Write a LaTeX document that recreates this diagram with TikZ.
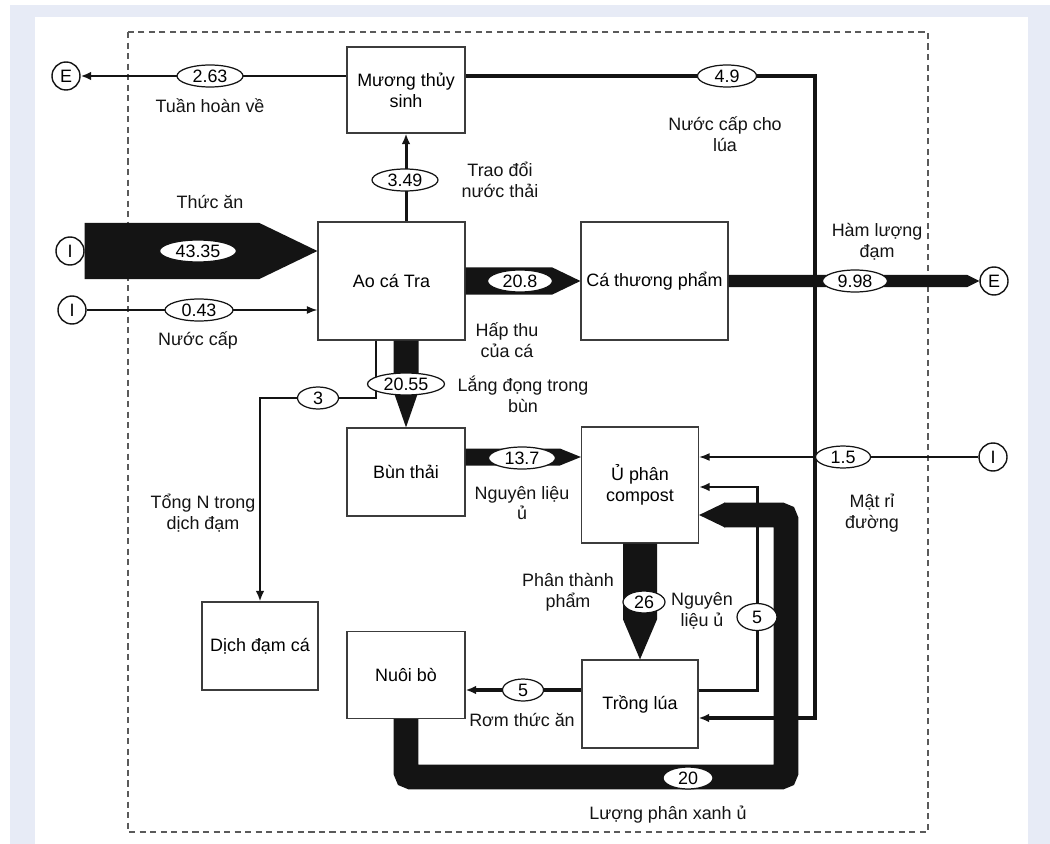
\documentclass[tikz,border=0pt]{standalone}
\usepackage{fontspec}
\setmainfont{Liberation Sans}
\usepackage{tikz}
\usetikzlibrary{shapes.geometric, arrows.meta, calc}
\definecolor{mypanel}{RGB}{231,235,246}
\definecolor{mydark}{RGB}{20,20,20}
\definecolor{myframe}{RGB}{90,90,90}
\definecolor{myedge}{RGB}{60,60,60}
\tikzset{
  box/.style={rectangle, draw=myedge, fill=white, align=center,
    line width=0.7pt, inner sep=1pt, font=\fontsize{10.2}{11.8}\selectfont},
  term/.style={circle, draw=mydark, fill=white, minimum size=0.56cm,
    inner sep=0pt, line width=0.8pt, font=\fontsize{10.2}{11.8}\selectfont},
  flowval/.style={ellipse, draw=mydark, fill=white, minimum height=0.44cm,
    minimum width=#1, inner sep=0pt, line width=0.7pt,
    font=\fontsize{10.2}{11.8}\selectfont},
  note/.style={align=center, text=mydark, font=\fontsize{10.2}{11.8}\selectfont},
  fatflow/.style={fill=mydark},
  arrow/.style={-{Latex[length=6pt,width=5pt]}, color=mydark, line width=1.7pt},
  thinarrow/.style={-{Latex[length=6pt,width=4.5pt]}, color=mydark, line width=0.75pt}
}

\begin{document}
\begin{tikzpicture}[x=0.02cm, y=-0.02cm]
  \useasboundingbox (0,0) rectangle (1050,844);
  % Background panel
  \fill[white] (0,0) rectangle (1050,844);
  \fill[mypanel] (10,5) rectangle (1050,844);
  \fill[white] (35,17) rectangle (1028,844);

  % System boundary
  \draw[myframe, line width=0.8pt, dash pattern=on 3.5pt off 2.5pt] (128,32) rectangle (928,832);

  % Compartments
  \node[box, minimum width=2.36cm, minimum height=1.72cm] (mts) at (406,90) {Mương thủy\\sinh};
  \node[box, minimum width=2.94cm, minimum height=2.36cm] (ao) at (391.5,281) {Ao cá Tra};
  \node[box, minimum width=2.94cm, minimum height=2.36cm] (ctp) at (654.5,281) {Cá thương phẩm};
  \node[box, minimum width=2.36cm, minimum height=1.76cm] (bun) at (406,472) {Bùn thải};
  \node[box, minimum width=2.34cm, minimum height=2.32cm] (uphan) at (640,485) {Ủ phân\\compost};
  \node[box, minimum width=2.32cm, minimum height=1.76cm] (dich) at (260,646) {Dịch đạm cá};
  \node[box, minimum width=2.36cm, minimum height=1.74cm] (nuoi) at (406,675) {Nuôi bò};
  \node[box, minimum width=2.32cm, minimum height=1.76cm] (lua) at (640,704) {Trồng lúa};

  % Inputs and exports
  \node[term] (eL) at (66,76) {E};
  \node[term] (iFood) at (70,251) {I};
  \node[term] (iWater) at (72,310) {I};
  \node[term] (eR) at (994,281) {E};
  \node[term] (iMol) at (993,457) {I};

  % Thuc an
  \fill[fatflow] ($(iFood.east)+(0,-28)$) -- ($(ao.west|-iFood)+(-58,-28)$) -- (ao.west|-iFood)
    -- ($(ao.west|-iFood)+(-58,28)$) -- ($(iFood.east)+(0,28)$) -- cycle;
  % Hap thu cua ca
  \fill[fatflow] ($(ao.east)+(0,-13.5)$) -- ($(ctp.west)+(-28,-13.5)$) -- (ctp.west)
    -- ($(ctp.west)+(-28,13.5)$) -- ($(ao.east)+(0,13.5)$) -- cycle;
  % Ham luong dam
  \fill[fatflow] ($(ctp.east)+(0,-6)$) -- ($(eR.west)+(-12,-6)$) -- (eR.west)
    -- ($(eR.west)+(-12,6)$) -- ($(ctp.east)+(0,6)$) -- cycle;
  % Lang dong trong bun
  \fill[fatflow] ($(bun.north|-ao.south)+(-12.5,0)$) -- ($(bun.north)+(-12.5,-36)$) -- (bun.north)
    -- ($(bun.north)+(12.5,-36)$) -- ($(bun.north|-ao.south)+(12.5,0)$) -- cycle;
  % Nguyen lieu u
  \fill[fatflow] ($(bun.east|-iMol)+(0,-8.5)$) -- ($(uphan.west|-iMol)+(-21,-8.5)$) -- (uphan.west|-iMol)
    -- ($(uphan.west|-iMol)+(-21,8.5)$) -- ($(bun.east|-iMol)+(0,8.5)$) -- cycle;
  % Phan thanh pham
  \fill[fatflow] ($(uphan.south)+(-17,0)$) -- ($(lua.north)+(-17,-40)$) -- (lua.north)
    -- ($(lua.north)+(17,-40)$) -- ($(uphan.south)+(17,0)$) -- cycle;
  % Luong phan xanh u
  \coordinate (manureA) at (406,777);
  \coordinate (manureB) at (786,777);
  \coordinate (manureC) at (786,515);
  \coordinate (manureD) at (724,515);
  \draw[mydark, line width=14.2pt, rounded corners=3pt] (nuoi.south) -- (manureA) -- (manureB) -- (manureC) -- (manureD);
  \fill[fatflow] ($(manureD)+(1,-12.5)$) -- (uphan.east|-manureD) -- ($(manureD)+(1,12.5)$) -- cycle;

  % Tuan hoan ve
  \draw[arrow] (mts.west|-eL) -- (eL);
  % Nuoc cap cho lua
  \coordinate (riceTop) at (815,76);
  \coordinate (riceLow) at (815,718);
  \draw[arrow, line width=2.3pt] (mts.east|-eL) -- (riceTop) -- (riceLow) -- (lua.east|-riceLow);
  % Trao doi nuoc thai
  \draw[arrow] (mts.south|-ao.north) -- (mts.south);
  % Nuoc cap
  \draw[thinarrow] (iWater) -- (ao.west|-iWater);
  % Tong N trong dich dam
  \coordinate (nSplit) at (376,398);
  \draw[arrow, line width=1.4pt] (nSplit|-ao.south) -- (nSplit) -| (dich.north);
  % Mat ri duong
  \draw[thinarrow] (iMol) -- (uphan.east|-iMol);
  % Nguyen lieu u tu lua
  \coordinate (strawLow) at (757,690);
  \coordinate (strawTop) at (757,487);
  \draw[arrow] (lua.east|-strawLow) -- (strawLow) -- (strawTop) -- (uphan.east|-strawTop);
  % Rom thuc an
  \draw[arrow, line width=2.3pt] (lua.west|-strawLow) -- (nuoi.east|-strawLow);

  % Flow values
  \node[flowval=1.32cm] (v263) at (210,76) {2.63};
  \node[flowval=1.18cm] (v49) at (727,76) {4.9};
  \node[flowval=1.32cm] (v349) at (405,180) {3.49};
  \node[flowval=1.54cm] (v4335) at (198,251) {43.35};
  \node[flowval=1.36cm] (v043) at (199,310) {0.43};
  \node[flowval=1.30cm] (v208) at (520,281) {20.8};
  \node[flowval=1.30cm] (v998) at (855,281) {9.98};
  \node[flowval=1.54cm] (v2055) at (406,384) {20.55};
  \node[flowval=0.82cm] (v3) at (318,398) {3};
  \node[flowval=1.34cm] (v137) at (522,458) {13.7};
  \node[flowval=1.10cm] (v15) at (843,457) {1.5};
  \node[flowval=0.84cm] (v26) at (644,602) {26};
  \node[flowval=0.80cm, minimum height=0.54cm] (v5a) at (757,617) {5};
  \node[flowval=0.82cm] (v5b) at (523,690) {5};
  \node[flowval=1.0cm] (v20) at (688,778) {20};

  % Flow names
  \node[note] (tTuan) at (210,106) {Tuần hoàn về};
  \node[note] (tNuocLua) at (725,134) {Nước cấp cho\\lúa};
  \node[note] (tTrao) at (500,180) {Trao đổi\\nước thải};
  \node[note] (tThuc) at (210,202) {Thức ăn};
  \node[note] (tNuoc) at (198,340) {Nước cấp};
  \node[note] (tHap) at (507,340) {Hấp thu\\của cá};
  \node[note] (tHam) at (877,242) {Hàm lượng\\đạm};
  \node[note] (tLang) at (523,394) {Lắng đọng trong\\bùn};
  \node[note] (tTong) at (203,513) {Tổng N trong\\dịch đạm};
  \node[note] (tNguyen) at (522,503) {Nguyên liệu\\ủ};
  \node[note] (tMat) at (872,513) {Mật rỉ\\đường};
  \node[note] (tPhan) at (568,592) {Phân thành\\phẩm};
  \node[note] (tNguyen2) at (702,611) {Nguyên\\liệu ủ};
  \node[note] (tRom) at (522,720) {Rơm thức ăn};
  \node[note] (tLuong) at (668,815) {Lượng phân xanh ủ};
\end{tikzpicture}
\end{document}
